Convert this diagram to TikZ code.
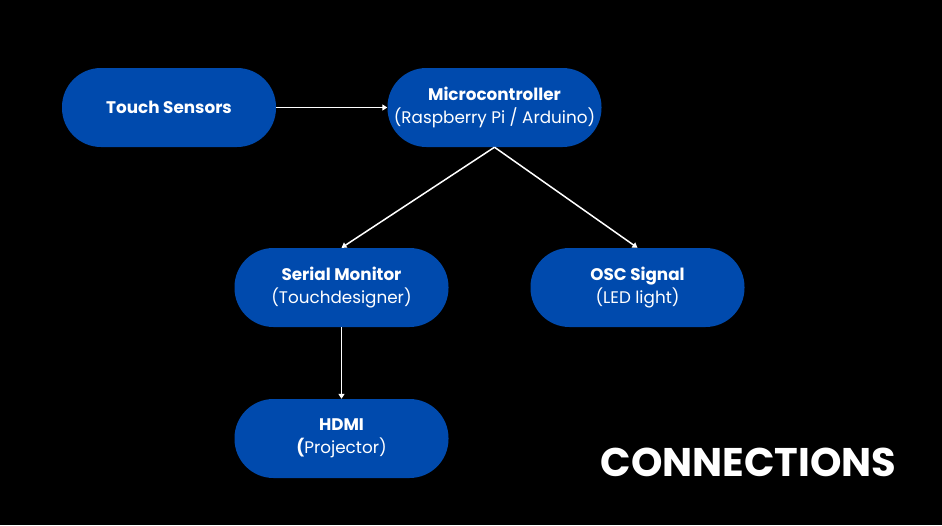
\documentclass[tikz,border=0pt]{standalone}
\usepackage{fontspec}
\setmainfont{Poppins}
\usetikzlibrary{arrows.meta}
\definecolor{boxblue}{HTML}{004AAD}
\tikzset{
  box/.style={fill=boxblue, rounded corners=39pt, minimum width=214pt, minimum height=79pt,
    text=white, align=center, inner sep=0pt, font=\fontsize{16.8}{23}\selectfont},
  conn/.style={draw=white, line width=1.5pt, -{Triangle[length=5pt,width=6pt]}}
}
\begin{document}
\begin{tikzpicture}[x=1pt,y=-1pt]
\fill[black] (0,0) rectangle (942,525);
\useasboundingbox (0,0) rectangle (942,525);
\node[box] (ts) at (169,107.5) {\textbf{Touch Sensors}};
\node[box] (mc) at (494.5,107.5) {\textbf{Microcontroller}\\(Raspberry Pi / Arduino)};
\node[box] (sm) at (341.5,287.5) {\textbf{Serial Monitor}\\(Touchdesigner)};
\node[box] (osc) at (637.5,287.5) {\textbf{OSC Signal}\\(LED light)};
\node[box] (hdmi) at (341.5,438.5) {\textbf{HDMI}\\\textbf{(}Projector)};
\node[text=white, font=\fontsize{40}{44}\selectfont\bfseries] (title) at (748.5,462) {CONNECTIONS};
\draw[conn] (ts) -- (mc);
\draw[conn] (mc.south) -- (sm.north);
\draw[conn] (mc.south) -- (osc.north);
\draw[conn] (sm) -- (hdmi);
\end{tikzpicture}
\end{document}
